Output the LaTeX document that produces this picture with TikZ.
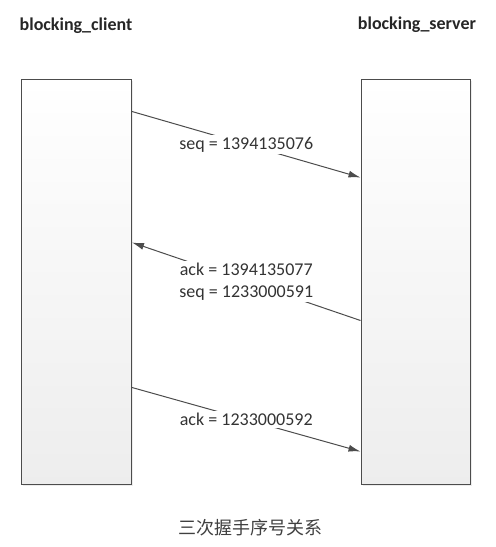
\documentclass[tikz,border=0pt]{standalone}
\usepackage{fontspec}
\setmainfont{Carlito}
\newfontfamily\cjk{Noto Sans CJK SC}
\usepackage{tikz}
\usetikzlibrary{arrows.meta,positioning,shadows}

\begin{document}
\begin{tikzpicture}[x=1pt, y=-1pt,
		host/.style   = {draw=black!70, line width=1pt, minimum width=110pt, minimum height=405pt, top color=white, bottom color=black!7, drop shadow={opacity=0.15, shadow xshift=1.5pt, shadow yshift=-1.5pt}},
		title/.style  = {font=\fontsize{18}{22}\selectfont\bfseries, text=black!85},
		msg/.style    = {font=\fontsize{18}{22}\selectfont, text=black!80, fill=white, inner sep=2pt, align=center},
		link/.style   = {->, draw=black!70, line width=1pt},
		>={Latex[length=12pt,width=7pt]}]
	
	\useasboundingbox (0,0) rectangle (496,547);
	
	% The two hosts
	\node[host] (client) at (76.5,281.5) {};
	\node[host, minimum width=109pt] (server) at (415.5,281.5) {};
	
	% Names above the hosts
	\node[title] (cname) at (76,26) {blocking\_client};
	\node[title] (sname) at (417,25) {blocking\_server};
	
	% Handshake messages, label sits on the middle of each line
	\draw[link] ([yshift=-33pt]client.north east) -- node[msg] (m1) {seq = 1394135076} ([yshift=-99pt]server.north west);
	\draw[link] ([yshift=-242pt]server.north west) -- node[msg] (m2) {ack = 1394135077\\seq = 1233000591} ([yshift=-164pt]client.north east);
	\draw[link] ([yshift=-309pt]client.north east) -- node[msg] (m3) {ack = 1233000592} ([yshift=-373pt]server.north west);
	
	% Caption
	\node[font=\fontsize{18}{22}\selectfont\cjk, text=black!75] (caption) at (250,528) {三次握手序号关系};
	
\end{tikzpicture}
\end{document}
